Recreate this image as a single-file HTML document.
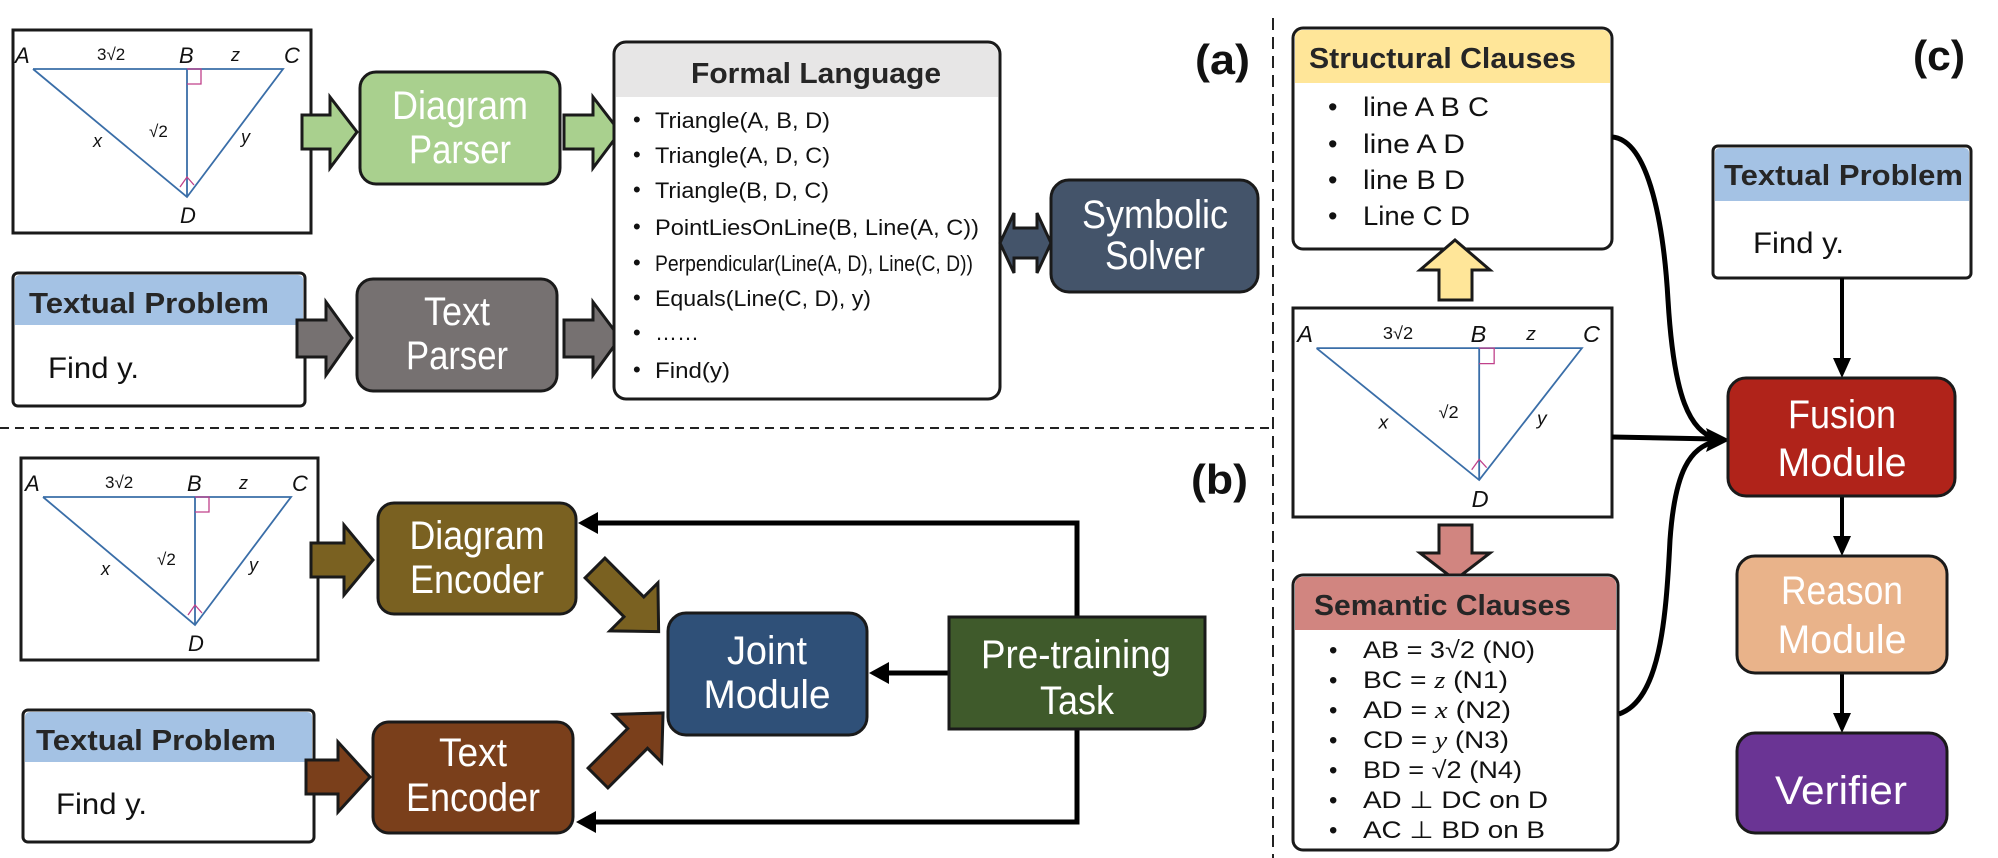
<!DOCTYPE html>
<html><head><meta charset="utf-8">
<style>
html,body{margin:0;padding:0;background:#fff;}
svg{display:block;font-family:"Liberation Sans",sans-serif;}
.bx{stroke:#1a1a1a;stroke-width:3;}
.wt{fill:#fff;font-size:40px;text-anchor:middle;}
.hd{font-weight:bold;fill:#262626;font-size:29px;}
.it{font-size:22px;fill:#111;}
.lb{font-style:italic;font-size:22px;fill:#111;}
.sm{font-size:17px;fill:#111;}
</style></head>
<body>
<svg width="1998" height="858" viewBox="0 0 1998 858" xmlns="http://www.w3.org/2000/svg">

<!-- dashed separators -->
<line x1="0" y1="428" x2="1272" y2="428" stroke="#222" stroke-width="2" stroke-dasharray="9,6"/>
<line x1="1273" y1="18" x2="1273" y2="858" stroke="#222" stroke-width="2" stroke-dasharray="12,7"/>

<!-- ===== Triangle diagram (a) ===== -->
<g transform="translate(13,30)">
<rect x="0" y="0" width="298" height="203" fill="#fff" stroke="#1a1a1a" stroke-width="3"/>
<polyline points="20,39 270,39 174,167 20,39" fill="none" stroke="#3a6ea8" stroke-width="1.8"/>
<line x1="174" y1="39" x2="174" y2="167" stroke="#3a6ea8" stroke-width="1.8"/>
<polyline points="174,39 188,39 188,54 174,54" fill="none" stroke="#c0408a" stroke-width="1.3"/>
<polyline points="167,157 174,147 181,155" fill="none" stroke="#c0408a" stroke-width="1.3"/>
<text class="lb" x="2" y="33">A</text><text class="sm" x="84" y="30">3√2</text>
<text class="lb" x="166" y="33">B</text><text class="lb" x="218" y="31" style="font-size:18px">z</text>
<text class="lb" x="271" y="33">C</text><text class="lb" x="167" y="193">D</text>
<text class="lb" x="80" y="117" style="font-size:18px">x</text><text class="sm" x="136" y="107">√2</text>
<text class="lb" x="228" y="113" style="font-size:18px">y</text>
</g>

<!-- ===== Triangle diagram (b) ===== -->
<g transform="translate(21,458)">
<rect x="0" y="0" width="297" height="202" fill="#fff" stroke="#1a1a1a" stroke-width="3"/>
<polyline points="22,39 270,39 174,167 22,39" fill="none" stroke="#3a6ea8" stroke-width="1.8"/>
<line x1="174" y1="39" x2="174" y2="167" stroke="#3a6ea8" stroke-width="1.8"/>
<polyline points="174,39 188,39 188,54 174,54" fill="none" stroke="#c0408a" stroke-width="1.3"/>
<polyline points="167,157 174,147 181,155" fill="none" stroke="#c0408a" stroke-width="1.3"/>
<text class="lb" x="4" y="33">A</text><text class="sm" x="84" y="30">3√2</text>
<text class="lb" x="166" y="33">B</text><text class="lb" x="218" y="31" style="font-size:18px">z</text>
<text class="lb" x="271" y="33">C</text><text class="lb" x="167" y="193">D</text>
<text class="lb" x="80" y="117" style="font-size:18px">x</text><text class="sm" x="136" y="107">√2</text>
<text class="lb" x="228" y="113" style="font-size:18px">y</text>
</g>

<!-- ===== Triangle diagram (c) ===== -->
<g transform="translate(1293,308)">
<rect x="0" y="0" width="319" height="209" fill="#fff" stroke="#1a1a1a" stroke-width="3"/>
<g transform="scale(1.07,1.03)">
<polyline points="22,39 270,39 174,167 22,39" fill="none" stroke="#3a6ea8" stroke-width="1.7"/>
<line x1="174" y1="39" x2="174" y2="167" stroke="#3a6ea8" stroke-width="1.7"/>
<polyline points="174,39 188,39 188,54 174,54" fill="none" stroke="#c0408a" stroke-width="1.2"/>
<polyline points="167,157 174,147 181,155" fill="none" stroke="#c0408a" stroke-width="1.2"/>
<text class="lb" x="4" y="33">A</text><text class="sm" x="84" y="30">3√2</text>
<text class="lb" x="166" y="33">B</text><text class="lb" x="218" y="31" style="font-size:18px">z</text>
<text class="lb" x="271" y="33">C</text><text class="lb" x="167" y="193">D</text>
<text class="lb" x="80" y="117" style="font-size:18px">x</text><text class="sm" x="136" y="107">√2</text>
<text class="lb" x="228" y="113" style="font-size:18px">y</text>
</g>
</g>

<!-- ===== Panel (a) ===== -->
<polygon class="bx" fill="#A9D08E" stroke-width="2.5" points="302,115 330,115 330,97 357,132 330,168 330,149 302,149"/>
<rect class="bx" x="360" y="72" width="200" height="112" rx="16" fill="#A9D08E"/>
<text class="wt" x="460" y="119" textLength="136" lengthAdjust="spacingAndGlyphs">Diagram</text>
<text class="wt" x="460" y="163" textLength="102" lengthAdjust="spacingAndGlyphs">Parser</text>
<polygon class="bx" fill="#A9D08E" stroke-width="2.5" points="564,115 593,115 593,97 620,132 593,168 593,149 564,149"/>

<!-- Textual Problem a -->
<rect x="13" y="273" width="292" height="133" rx="5" fill="#fff" stroke="#1a1a1a" stroke-width="3"/>
<path d="M15,325 L15,280 Q15,275 20,275 L298,275 Q303,275 303,280 L303,325 Z" fill="#A4C2E4"/>
<text class="hd" x="29" y="313" textLength="240" lengthAdjust="spacingAndGlyphs">Textual Problem</text>
<text x="48" y="378" font-size="30" fill="#111" textLength="91" lengthAdjust="spacingAndGlyphs">Find y.</text>

<polygon class="bx" fill="#767171" stroke-width="2.5" points="297,320 326,320 326,302 352,338 326,375 326,357 297,357"/>
<rect class="bx" x="357" y="279" width="200" height="112" rx="16" fill="#767171"/>
<text class="wt" x="457" y="325" textLength="66" lengthAdjust="spacingAndGlyphs">Text</text>
<text class="wt" x="457" y="369" textLength="102" lengthAdjust="spacingAndGlyphs">Parser</text>
<polygon class="bx" fill="#767171" stroke-width="2.5" points="564,320 593,320 593,302 620,338 593,375 593,357 564,357"/>

<!-- Formal Language -->
<rect x="614" y="42" width="386" height="357" rx="12" fill="#fff"/>
<path d="M616,97 L616,55 Q616,44 628,44 L986,44 Q998,44 998,55 L998,97 Z" fill="#E7E6E6"/>
<rect x="614" y="42" width="386" height="357" rx="12" fill="none" stroke="#1a1a1a" stroke-width="3"/>
<text class="hd" x="691" y="83" textLength="250" lengthAdjust="spacingAndGlyphs">Formal Language</text>
<g class="it">
<text x="633" y="127">•</text><text x="655" y="128" textLength="175" lengthAdjust="spacingAndGlyphs">Triangle(A, B, D)</text>
<text x="633" y="162">•</text><text x="655" y="163" textLength="175" lengthAdjust="spacingAndGlyphs">Triangle(A, D, C)</text>
<text x="633" y="197">•</text><text x="655" y="198" textLength="174" lengthAdjust="spacingAndGlyphs">Triangle(B, D, C)</text>
<text x="633" y="234">•</text><text x="655" y="235" textLength="324" lengthAdjust="spacingAndGlyphs">PointLiesOnLine(B, Line(A, C))</text>
<text x="633" y="270">•</text><text x="655" y="271" textLength="318" lengthAdjust="spacingAndGlyphs">Perpendicular(Line(A, D), Line(C, D))</text>
<text x="633" y="305">•</text><text x="655" y="306" textLength="216" lengthAdjust="spacingAndGlyphs">Equals(Line(C, D), y)</text>
<text x="633" y="340">•</text><text x="655" y="340">……</text>
<text x="633" y="377">•</text><text x="655" y="378" textLength="75" lengthAdjust="spacingAndGlyphs">Find(y)</text>
</g>

<!-- double arrow + Symbolic Solver -->
<polygon class="bx" fill="#44546A" stroke-width="2.5" points="1000,243 1014,213 1014,228 1037,228 1037,213 1051,243 1037,273 1037,258 1014,258 1014,273"/>
<rect class="bx" x="1051" y="180" width="207" height="112" rx="18" fill="#44546A"/>
<text class="wt" x="1155" y="228" textLength="146" lengthAdjust="spacingAndGlyphs">Symbolic</text>
<text class="wt" x="1155" y="269" textLength="100" lengthAdjust="spacingAndGlyphs">Solver</text>

<text x="1195" y="74" font-size="42" font-weight="bold" fill="#111" textLength="55" lengthAdjust="spacingAndGlyphs">(a)</text>
<text x="1191" y="494" font-size="42" font-weight="bold" fill="#111" textLength="57" lengthAdjust="spacingAndGlyphs">(b)</text>
<text x="1913" y="70" font-size="42" font-weight="bold" fill="#111" textLength="52" lengthAdjust="spacingAndGlyphs">(c)</text>

<!-- ===== Panel (b) ===== -->
<polygon class="bx" fill="#7A6121" stroke-width="2.5" points="311,543 344,543 344,525 373,560 344,595 344,577 311,577"/>
<rect class="bx" x="378" y="503" width="198" height="111" rx="16" fill="#7A6121"/>
<text class="wt" x="477" y="549" textLength="135" lengthAdjust="spacingAndGlyphs">Diagram</text>
<text class="wt" x="477" y="593" textLength="134" lengthAdjust="spacingAndGlyphs">Encoder</text>

<rect x="23" y="710" width="291" height="132" rx="5" fill="#fff" stroke="#1a1a1a" stroke-width="3"/>
<path d="M25,762 L25,717 Q25,712 30,712 L307,712 Q312,712 312,717 L312,762 Z" fill="#A4C2E4"/>
<text class="hd" x="36" y="750" textLength="240" lengthAdjust="spacingAndGlyphs">Textual Problem</text>
<text x="56" y="814" font-size="30" fill="#111" textLength="91" lengthAdjust="spacingAndGlyphs">Find y.</text>

<polygon class="bx" fill="#7A3F1B" stroke-width="2.5" points="306,760 338,760 338,742 370,777 338,812 338,794 306,794"/>
<rect class="bx" x="373" y="722" width="200" height="111" rx="16" fill="#7A3F1B"/>
<text class="wt" x="473" y="766" textLength="68" lengthAdjust="spacingAndGlyphs">Text</text>
<text class="wt" x="473" y="811" textLength="134" lengthAdjust="spacingAndGlyphs">Encoder</text>

<!-- diagonal arrows -->
<polygon class="bx" fill="#7A6121" stroke-width="2.5" transform="translate(595,568) rotate(45)" points="0,-14 55,-14 55,-34 90,0 55,34 55,14 0,14"/>
<polygon class="bx" fill="#7A3F1B" stroke-width="2.5" transform="translate(598,778) rotate(-45)" points="0,-14 56,-14 56,-34 92,0 56,34 56,14 0,14"/>

<rect class="bx" x="668" y="613" width="199" height="122" rx="18" fill="#2F5078"/>
<text class="wt" x="767" y="664" textLength="80" lengthAdjust="spacingAndGlyphs">Joint</text>
<text class="wt" x="767" y="708" textLength="127" lengthAdjust="spacingAndGlyphs">Module</text>

<!-- loop lines -->
<polyline points="1077,617 1077,523 590,523" fill="none" stroke="#000" stroke-width="5"/>
<path d="M578,523 L598,512 L598,534 Z" fill="#000"/>
<polyline points="1077,729 1077,822 588,822" fill="none" stroke="#000" stroke-width="5"/>
<path d="M576,822 L596,811 L596,833 Z" fill="#000"/>
<line x1="949" y1="673" x2="882" y2="673" stroke="#000" stroke-width="5"/>
<path d="M869,673 L889,662 L889,684 Z" fill="#000"/>

<path d="M949,617 L1205,617 L1205,712 Q1205,729 1188,729 L949,729 Z" class="bx" fill="#3F5A2B"/>
<text class="wt" x="1076" y="668" textLength="190" lengthAdjust="spacingAndGlyphs">Pre-training</text>
<text class="wt" x="1077" y="714" textLength="74" lengthAdjust="spacingAndGlyphs">Task</text>

<!-- ===== Panel (c) ===== -->
<rect x="1293" y="28" width="319" height="221" rx="10" fill="#fff"/>
<path d="M1295,83 L1295,38 Q1295,30 1303,30 L1602,30 Q1610,30 1610,38 L1610,83 Z" fill="#FFE699"/>
<rect x="1293" y="28" width="319" height="221" rx="10" fill="none" stroke="#1a1a1a" stroke-width="3"/>
<text class="hd" x="1309" y="68" textLength="267" lengthAdjust="spacingAndGlyphs">Structural Clauses</text>
<g style="font-size:27px;fill:#111">
<text x="1328" y="116">•</text><text x="1363" y="116" textLength="126" lengthAdjust="spacingAndGlyphs">line A B C</text>
<text x="1328" y="153">•</text><text x="1363" y="153" textLength="102" lengthAdjust="spacingAndGlyphs">line A D</text>
<text x="1328" y="189">•</text><text x="1363" y="189" textLength="102" lengthAdjust="spacingAndGlyphs">line B D</text>
<text x="1328" y="225">•</text><text x="1363" y="225" textLength="107" lengthAdjust="spacingAndGlyphs">Line C D</text>
</g>

<polygon class="bx" fill="#FFE699" stroke-width="2.5" points="1455,240 1490,270 1472,270 1472,300 1439,300 1439,270 1420,270"/>
<polygon class="bx" fill="#D18580" stroke-width="2.5" points="1439,525 1472,525 1472,553 1490,553 1455,580 1420,553 1439,553"/>

<rect x="1293" y="575" width="325" height="275" rx="10" fill="#fff"/>
<path d="M1295,630 L1295,585 Q1295,577 1303,577 L1608,577 Q1616,577 1616,585 L1616,630 Z" fill="#D18580"/>
<rect x="1293" y="575" width="325" height="275" rx="10" fill="none" stroke="#1a1a1a" stroke-width="3"/>
<text class="hd" x="1314" y="615" textLength="257" lengthAdjust="spacingAndGlyphs">Semantic Clauses</text>
<g style="font-size:24px;fill:#111">
<text x="1329" y="658">•</text><text x="1363" y="658" textLength="172" lengthAdjust="spacingAndGlyphs">AB = 3√2 (N0)</text>
<text x="1329" y="688">•</text><text x="1363" y="688" textLength="145" lengthAdjust="spacingAndGlyphs">BC = <tspan font-family="Liberation Serif" font-style="italic">z</tspan>  (N1)</text>
<text x="1329" y="718">•</text><text x="1363" y="718" textLength="148" lengthAdjust="spacingAndGlyphs">AD = <tspan font-family="Liberation Serif" font-style="italic">x</tspan>  (N2)</text>
<text x="1329" y="748">•</text><text x="1363" y="748" textLength="146" lengthAdjust="spacingAndGlyphs">CD = <tspan font-family="Liberation Serif" font-style="italic">y</tspan>  (N3)</text>
<text x="1329" y="778">•</text><text x="1363" y="778" textLength="159" lengthAdjust="spacingAndGlyphs">BD = √2  (N4)</text>
<text x="1329" y="808">•</text><text x="1363" y="808" textLength="185" lengthAdjust="spacingAndGlyphs">AD ⊥ DC on D</text>
<text x="1329" y="838">•</text><text x="1363" y="838" textLength="182" lengthAdjust="spacingAndGlyphs">AC ⊥ BD on B</text>
</g>

<!-- Textual Problem c -->
<rect x="1713" y="146" width="258" height="132" rx="5" fill="#fff" stroke="#1a1a1a" stroke-width="3"/>
<path d="M1715,201 L1715,153 Q1715,148 1720,148 L1964,148 Q1969,148 1969,153 L1969,201 Z" fill="#A4C2E4"/>
<text class="hd" x="1724" y="185" textLength="239" lengthAdjust="spacingAndGlyphs">Textual Problem</text>
<text x="1753" y="253" font-size="30" fill="#111" textLength="91" lengthAdjust="spacingAndGlyphs">Find y.</text>

<!-- connectors to fusion -->
<path d="M1612,137 C1650,140 1664,230 1668,300 C1674,400 1690,430 1716,439" fill="none" stroke="#000" stroke-width="5"/>
<path d="M1619,714 C1660,700 1666,620 1670,540 C1675,470 1690,448 1716,441" fill="none" stroke="#000" stroke-width="5"/>
<line x1="1612" y1="437" x2="1716" y2="439" stroke="#000" stroke-width="5"/>
<path d="M1730,440 L1706,428 L1710,440 L1706,452 Z" fill="#000"/>

<line x1="1842" y1="278" x2="1842" y2="362" stroke="#000" stroke-width="4"/>
<path d="M1842,378 L1833,358 L1851,358 Z" fill="#000"/>
<line x1="1842" y1="496" x2="1842" y2="541" stroke="#000" stroke-width="4"/>
<path d="M1842,556 L1833,536 L1851,536 Z" fill="#000"/>
<line x1="1842" y1="673" x2="1842" y2="718" stroke="#000" stroke-width="4"/>
<path d="M1842,733 L1833,713 L1851,713 Z" fill="#000"/>

<rect class="bx" x="1728" y="378" width="227" height="118" rx="18" fill="#B0231A"/>
<text class="wt" x="1842" y="428" textLength="108" lengthAdjust="spacingAndGlyphs">Fusion</text>
<text class="wt" x="1842" y="476" textLength="129" lengthAdjust="spacingAndGlyphs">Module</text>

<rect class="bx" x="1737" y="556" width="210" height="117" rx="18" fill="#E9B38A"/>
<text class="wt" x="1842" y="604" textLength="122" lengthAdjust="spacingAndGlyphs">Reason</text>
<text class="wt" x="1842" y="653" textLength="129" lengthAdjust="spacingAndGlyphs">Module</text>

<rect class="bx" x="1737" y="733" width="210" height="100" rx="18" fill="#6A3494"/>
<text class="wt" x="1841" y="804" textLength="132" lengthAdjust="spacingAndGlyphs">Verifier</text>
</svg>
</body></html>
